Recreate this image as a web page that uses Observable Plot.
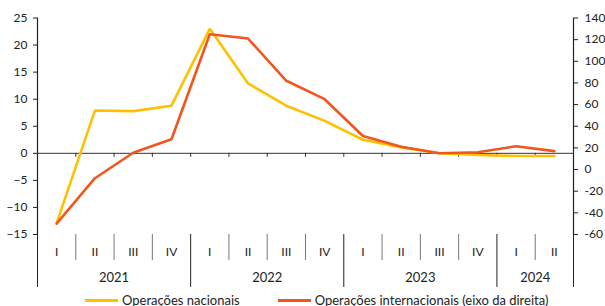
<!DOCTYPE html>
<html>
<head>
<meta charset="utf-8">
<script src="https://cdn.jsdelivr.net/npm/d3@7"></script>
<script src="https://cdn.jsdelivr.net/npm/@observablehq/plot@0.6"></script>
<style>
  body { margin: 0; background: #fff; font-family: Lato, "Noto Sans", sans-serif; }
  #chart svg { display: block; }
  .legend { display: flex; align-items: center; height: 14px; margin-top: 2px; font-size: 13px; color: #222; }
  .legend span.sw { display: inline-block; width: 33px; height: 3px; margin-right: 4px; }
  .legend .item { display: flex; align-items: center; }
</style>
</head>
<body>
<div id="chart"></div>
<script>
// Quarters 2021 Q1 .. 2024 Q2
const quarterLabels = ["I","II","III","IV","I","II","III","IV","I","II","III","IV","I","II"];
const years = ["2021","2022","2023","2024"];
const yearQuarterCounts = [4, 4, 4, 2];
// Operações nacionais (left axis)
const nacionais = [-12.9, 7.9, 7.8, 8.8, 23.0, 12.9, 8.8, 6.0, 2.5, 1.1, 0.0, -0.3, -0.5, -0.5];
// Operações internacionais (right axis)
const internacionais = [-50, -8, 15.5, 28, 125, 121, 82, 65, 31, 21, 15, 16, 21.5, 17];
const leftTicks = [-15, -10, -5, 0, 5, 10, 15, 20, 25];
const rightTicks = [-60, -40, -20, 0, 20, 40, 60, 80, 100, 120, 140];

// right axis value r corresponds to left value (r - 15) / 5
const toLeft = r => (r - 15) / 5;
const toRight = l => Math.round(l * 5 + 15);

const nq = quarterLabels.length;
const rows = quarterLabels.map((q, i) => ({i: i + 0.5, q, nac: nacionais[i], int: toLeft(internacionais[i])}));

// boundaries
const yearBounds = [0];
yearQuarterCounts.forEach(c => yearBounds.push(yearBounds[yearBounds.length - 1] + c));
const allBounds = d3.range(0, nq + 1);
const innerBounds = allBounds.filter(b => !yearBounds.includes(b));
const innerAll = allBounds.filter(b => b > 0 && b < nq);
const yearCenters = years.map((y, k) => (yearBounds[k] + yearBounds[k + 1]) / 2);

const yellow = "#FFC000";
const orange = "#F0561E";

const chart = Plot.plot({
  width: 605,
  height: 291,
  marginLeft: 37,
  marginRight: 32,
  marginTop: 17.5,
  marginBottom: 57,
  style: {fontFamily: "Lato, 'Noto Sans', sans-serif", fontSize: "12px", color: "#222", background: "#fff"},
  x: {domain: [0, nq]},
  y: {domain: [-15, 25]},
  marks: [
    // left & right axes
    Plot.axisY({anchor: "left", ticks: leftTicks, tickSize: 4, tickPadding: 6, label: null, fontSize: 12}),
    Plot.axisY({anchor: "right", ticks: rightTicks.map(toLeft), tickFormat: toRight, tickSize: 4, tickPadding: 7, label: null, fontSize: 12}),
    Plot.ruleX([0, nq], {stroke: "#222", strokeWidth: 1.2}),
    // category axis: separators
    Plot.axisX({anchor: "bottom", ticks: innerBounds, tickSize: 26, tickFormat: () => "", stroke: "#777", strokeOpacity: 1, label: null}),
    Plot.axisX({anchor: "bottom", ticks: yearBounds, tickSize: 53, tickFormat: () => "", stroke: "#222", strokeOpacity: 1, label: null}),
    // quarter labels
    Plot.axisX({anchor: "bottom", ticks: rows.map(d => d.i), tickSize: 0, tickPadding: 13, tickFormat: (v) => quarterLabels[Math.floor(v)], label: null, fontSize: 12}),
    // year labels
    Plot.axisX({anchor: "bottom", ticks: yearCenters, tickSize: 0, tickPadding: 38, tickFormat: (v) => years[yearCenters.indexOf(v)], label: null, fontSize: 13}),
    // zero line with small ticks
    Plot.ruleY([0], {stroke: "#333", strokeWidth: 1}),
    Plot.ruleX(innerAll, {x: d => d, y1: 0, y2: 0, insetBottom: -4, stroke: "#333"}),
    // series
    Plot.line(rows, {x: "i", y: "nac", stroke: yellow, strokeWidth: 2.6, strokeLinejoin: "miter"}),
    Plot.line(rows, {x: "i", y: "int", stroke: orange, strokeWidth: 2.6, strokeLinejoin: "miter"})
  ]
});
document.getElementById("chart").appendChild(chart);

const legend = document.createElement("div");
legend.className = "legend";
legend.innerHTML = `<div style="width:85px"></div>
  <div class="item"><span class="sw" style="background:${yellow}"></span>Operações nacionais</div>
  <div style="width:38px"></div>
  <div class="item"><span class="sw" style="background:${orange}"></span>Operações internacionais (eixo da direita)</div>`;
document.body.appendChild(legend);
</script>
</body>
</html>
